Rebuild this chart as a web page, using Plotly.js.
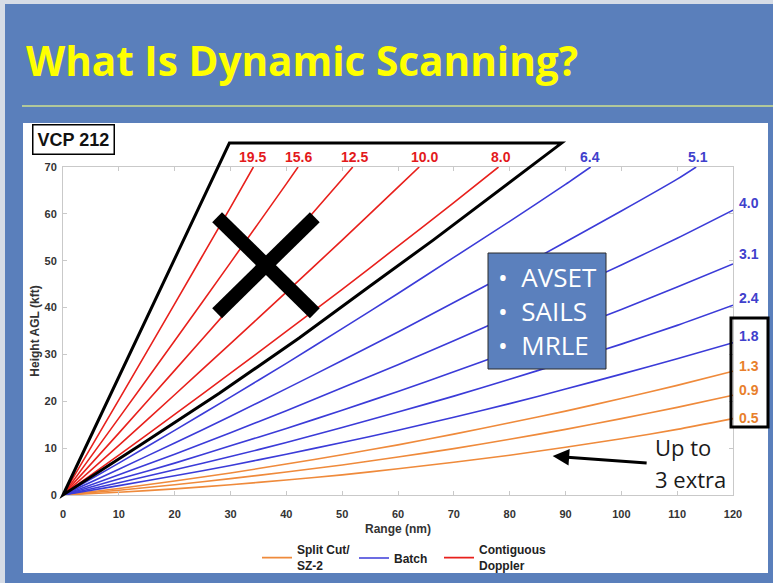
<!DOCTYPE html>
<html><head><meta charset="utf-8">
<script src="https://cdn.plot.ly/plotly-3.0.1.min.js"></script>
<style>html,body{margin:0;padding:0;background:#5a7fbb;overflow:hidden}</style>
</head><body><div id="chart" style="width:773px;height:583px"></div>
<script>
// ---- data (range in nm, height in kft) ----
const rangeFull = [0,10,20,30,40,50,60,70,80,90,100,110,120];
const h_0_5 = [0,0.6,1.3,2.2,3.2,4.3,5.6,7.0,8.5,10.2,12.0,14.0,16.3];
const h_0_9 = [0,1.0,2.2,3.5,4.9,6.4,8.1,9.9,11.9,14.0,16.3,18.7,21.3];
const h_1_3 = [0,1.4,3.0,4.7,6.6,8.6,10.7,13.0,15.4,17.9,20.6,23.4,26.4];
const h_1_8 = [0,2.0,4.1,6.3,8.7,11.2,13.8,16.6,19.5,22.6,25.8,29.1,32.5];
const h_2_4 = [0,2.6,5.4,8.2,11.2,14.4,17.7,21.1,24.7,28.4,32.2,36.2,40.5];
const h_3_1 = [0,3.4,6.8,10.5,14.2,18.1,22.1,26.3,30.6,35.0,39.6,44.4,49.3];
const h_4_0 = [0,4.3,8.7,13.3,18.0,22.9,27.8,32.9,38.2,43.6,49.1,54.8,60.8];
const r_5_1 = [0,10,20,30,40,50,60,70,80,90,100,110,113.4];
const h_5_1 = [0,5.5,11.1,16.8,22.7,28.7,34.8,41.1,47.4,54.0,60.6,67.4,70];
const r_6_4 = [0,10,20,30,40,50,60,70,80,90,94.5];
const h_6_4 = [0,6.8,13.8,20.9,28.1,35.5,43.0,50.7,58.4,66.3,70];
const r_8_0 = [0,10,20,30,40,50,60,70,78.0];
const h_8_0 = [0,8.5,17.2,26.0,34.9,43.9,53.1,62.4,70];
const r_10_0 = [0,10,20,30,40,50,60,63.8];
const h_10_0 = [0,10.6,21.4,32.3,43.3,54.4,65.7,70];
const r_12_5 = [0,10,20,30,40,50,51.9];
const h_12_5 = [0,13.2,26.6,40.1,53.7,67.4,70];
const r_15_6 = [0,10,20,30,40,42.1];
const h_15_6 = [0,16.4,32.9,49.6,66.4,70];
const r_19_5 = [0,10,20,30,34.1];
const h_19_5 = [0,20.3,40.8,61.4,70];

const elevLabels = ['0.5','0.9','1.3','1.8','2.4','3.1','4.0','5.1','6.4','8.0','10.0','12.5','15.6','19.5'];
const elevGroup  = ['split','split','split','batch','batch','batch','batch','batch','batch','doppler','doppler','doppler','doppler','doppler'];
const groupNames = {split:'Split Cut/<br>SZ-2', batch:'Batch', doppler:'Contiguous<br>Doppler'};
const xTicks = [0,10,20,30,40,50,60,70,80,90,100,110,120];
const yTicks = [0,10,20,30,40,50,60,70];

// outline polygon around the contiguous Doppler cuts (range nm, height kft)
const outlineRange  = [0,29.8,89.3,66.3,55.0,42.3,28.0,14.0,0];
const outlineHeight = [0,75.1,75.1,54.4,44.6,33.5,21.7,10.8,0];
// big X over the cuts
const crossRange  = [27.6,45.1];
const crossHeight = [38.8,59.3];
// arrow "Up to 3 extra"
const arrowTail = [104.8,6.8];
const arrowTip  = [87.7,8.3];

const seriesX = [rangeFull,rangeFull,rangeFull,rangeFull,rangeFull,rangeFull,rangeFull,r_5_1,r_6_4,r_8_0,r_10_0,r_12_5,r_15_6,r_19_5];
const seriesY = [h_0_5,h_0_9,h_1_3,h_1_8,h_2_4,h_3_1,h_4_0,h_5_1,h_6_4,h_8_0,h_10_0,h_12_5,h_15_6,h_19_5];

// ---- styling ----
const lineColor = {split:'#ef8a3b', batch:'#3b3bd8', doppler:'#e8201c'};
const labelColor = {split:'#e8802c', batch:'#4040cc', doppler:'#e31a1c'};
const legendId = {split:'legend', batch:'legend2', doppler:'legend3'};
const SLIDE = '#5a7fbb';
const W = 773, H = 583, ML = 63, MR = 40, MT = 167, MB = 88;
const PW = W-ML-MR, PH = H-MT-MB;
const XMAX = 120, YMAX = 70;
const pxX = p => (p-ML)/PW;
const pxY = p => (H-MB-p)/PH;
const dX = x => x/XMAX;
const dY = y => y/YMAX;
const bold = 'Liberation Sans, Arial, Helvetica, sans-serif';

const traces = [];
const seen = {};
['split','batch','doppler'].forEach(g => {
  elevLabels.forEach((lab,i) => {
    if (elevGroup[i] !== g) return;
    traces.push({
      type:'scatter', mode:'lines', x: seriesX[i], y: seriesY[i],
      name: groupNames[g], legendgroup: g, legend: legendId[g], showlegend: !seen[g],
      line:{color: lineColor[g], width:1.6, shape:'spline', smoothing:0.6}, hoverinfo:'skip'
    });
    seen[g] = true;
  });
});

const annotations = [];
const topShift = {'19.5':-1,'15.6':0,'12.5':2,'10.0':5,'8.0':2,'6.4':-1,'5.1':2};
const rightShift = {'4.0':7,'3.1':10,'2.4':7,'1.8':7,'1.3':5,'0.9':5,'0.5':1};
elevLabels.forEach((lab,i) => {
  const xs = seriesX[i], ys = seriesY[i];
  const xe = xs[xs.length-1], ye = ys[ys.length-1];
  const g = elevGroup[i];
  if (lab in topShift) {
    annotations.push({xref:'x', yref:'paper', x: xe, y: pxY(157), text: lab, showarrow:false,
      xanchor:'center', yanchor:'middle', xshift: topShift[lab],
      font:{family:bold, size:14, color: labelColor[g], weight:'bold'}});
  } else {
    annotations.push({xref:'x', yref:'y', x: xe, y: ye, text: lab, showarrow:false,
      xanchor:'left', yanchor:'middle', xshift: 4, yshift: rightShift[lab],
      font:{family:bold, size:14, color: labelColor[g], weight:'bold'}});
  }
});
annotations.push({xref:'paper', yref:'paper', x: pxX(73), y: pxY(139.5), text:'VCP 212', showarrow:false,
  xanchor:'center', yanchor:'middle', bgcolor:'#ffffff', bordercolor:'#000000', borderwidth:1.5, borderpad:4,
  font:{family:bold, size:18, color:'#111', weight:'bold'}});
annotations.push({xref:'paper', yref:'paper', x: pxX(653), y: pxY(447), text:'Up to', showarrow:false,
  xanchor:'left', yanchor:'middle', align:'left',
  font:{family:'Open Sans, sans-serif', size:22, color:'#1a1a1a'}});
annotations.push({xref:'paper', yref:'paper', x: pxX(653), y: pxY(479), text:'3 extra', showarrow:false,
  xanchor:'left', yanchor:'middle', align:'left',
  font:{family:'Open Sans, sans-serif', size:22, color:'#1a1a1a'}});
annotations.push({xref:'x', yref:'y', axref:'x', ayref:'y', x: arrowTip[0], y: arrowTip[1], ax: arrowTail[0], ay: arrowTail[1],
  text:'', showarrow:true, arrowhead:2, arrowsize:1.1, arrowwidth:3, arrowcolor:'#000', standoff:0, startstandoff:0});
annotations.push({xref:'paper', yref:'paper', x: pxX(496), y: pxY(311), text:'•  AVSET<br>•  SAILS<br>•  MRLE', showarrow:false,
  xanchor:'left', yanchor:'middle', align:'left',
  font:{family:'Open Sans, sans-serif', size:26, color:'#ffffff'}});

let outlinePath = '';
outlineRange.forEach((r,i) => {
  outlinePath += (i===0?'M':'L') + dX(r).toFixed(5) + ',' + dY(outlineHeight[i]).toFixed(5) + ' ';
});
outlinePath += 'Z';

const shapes = [
  {type:'rect', xref:'paper', yref:'paper', x0: pxX(0), x1: pxX(W), y0: pxY(0), y1: pxY(4), fillcolor:'#d6dce6', line:{width:0}, layer:'below'},
  {type:'rect', xref:'paper', yref:'paper', x0: pxX(0), x1: pxX(5), y0: pxY(0), y1: pxY(H), fillcolor:'#d6dce6', line:{width:0}, layer:'below'},
  {type:'line', xref:'paper', yref:'paper', x0: pxX(22), x1: pxX(W), y0: pxY(106), y1: pxY(106), line:{color:'#cfe08f', width:1.5}},
  {type:'rect', xref:'paper', yref:'paper', x0: pxX(23), x1: pxX(768), y0: pxY(573), y1: pxY(123), fillcolor:'#ffffff', line:{width:0}, layer:'below'},
  {type:'path', xref:'paper', yref:'paper', path: outlinePath, line:{color:'#000', width:3}, layer:'above'},
  {type:'line', xref:'x', yref:'y', x0: crossRange[0], y0: crossHeight[1], x1: crossRange[1], y1: crossHeight[0], line:{color:'#000', width:14}},
  {type:'line', xref:'x', yref:'y', x0: crossRange[1], y0: crossHeight[1], x1: crossRange[0], y1: crossHeight[0], line:{color:'#000', width:14}},
  {type:'rect', xref:'paper', yref:'paper', x0: pxX(731), x1: pxX(768), y0: pxY(427), y1: pxY(318), line:{color:'#000', width:3}},
  {type:'rect', xref:'paper', yref:'paper', x0: pxX(488), x1: pxX(606), y0: pxY(369), y1: pxY(253), fillcolor:'#5b80bd', line:{color:'#2a2a2a', width:1}}
];

const axisCommon = {showgrid:false, zeroline:false, showline:true, linecolor:'#c9c9c9', linewidth:1,
  mirror:'ticks', ticks:'inside', ticklen:4, tickcolor:'#c9c9c9', automargin:false,
  tickfont:{family:bold, size:11, color:'#333', weight:'bold'}};

const legendCommon = {orientation:'h', xanchor:'left', yanchor:'middle', y: pxY(558),
  bgcolor:'rgba(0,0,0,0)', borderwidth:0, font:{family:bold, size:12, color:'#222', weight:'bold'}};

const layout = {
  width: W, height: H, autosize:false,
  margin:{l:ML, r:MR, t:MT, b:MB, pad:0, autoexpand:false},
  paper_bgcolor: SLIDE, plot_bgcolor:'rgba(0,0,0,0)',
  title:{text:'What Is Dynamic Scanning?', x: 26/W, xanchor:'left', xref:'container', y: 1-62/H, yanchor:'middle', yref:'container',
    font:{family:'Open Sans, sans-serif', size:40.5, color:'#ffff00', weight:'bold'}},
  xaxis: Object.assign({}, axisCommon, {range:[0,XMAX], tickvals:xTicks, ticktext: xTicks.map(String), ticklabelstandoff:9,
    title:{text:'Range (nm)', standoff:5, font:{family:bold, size:12, color:'#333', weight:'bold'}}}),
  yaxis: Object.assign({}, axisCommon, {range:[0,YMAX], tickvals:yTicks, ticktext: yTicks.map(String), ticklabelstandoff:3,
    title:{text:'Height AGL (kft)', standoff:2, font:{family:bold, size:12, color:'#333', weight:'bold'}}}),
  showlegend:true,
  legend: Object.assign({}, legendCommon, {x: pxX(257)}),
  legend2: Object.assign({}, legendCommon, {x: pxX(354)}),
  legend3: Object.assign({}, legendCommon, {x: pxX(439)}),
  annotations, shapes
};

Plotly.newPlot('chart', traces, layout, {displayModeBar:false, staticPlot:true});
</script>
</body></html>
